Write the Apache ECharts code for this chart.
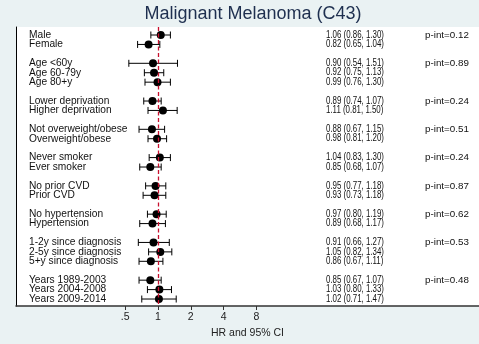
<!DOCTYPE html>
<html>
<head>
<meta charset="utf-8">
<script src="https://cdn.jsdelivr.net/npm/echarts@6/dist/echarts.min.js"></script>
<style>
  html, body { margin: 0; padding: 0; background: #eaf2f3; }
  #chart { width: 479px; height: 344px; }
</style>
</head>
<body>
<div id="chart"></div>
<script>
// Subgroup hazard ratios with 95% confidence intervals
const labels = [
  'Male', 'Female',
  'Age <60y', 'Age 60-79y', 'Age 80+y',
  'Lower deprivation', 'Higher deprivation',
  'Not overweight/obese', 'Overweight/obese',
  'Never smoker', 'Ever smoker',
  'No prior CVD', 'Prior CVD',
  'No hypertension', 'Hypertension',
  '1-2y since diagnosis', '2-5y since diagnosis', '5+y since diagnosis',
  'Years 1989-2003', 'Years 2004-2008', 'Years 2009-2014'
];
const hr = [1.06, 0.82, 0.90, 0.92, 0.99, 0.89, 1.11, 0.88, 0.98, 1.04, 0.85,
            0.95, 0.93, 0.97, 0.89, 0.91, 1.05, 0.86, 0.85, 1.03, 1.02];
const lo = [0.86, 0.65, 0.54, 0.75, 0.76, 0.74, 0.81, 0.67, 0.81, 0.83, 0.68,
            0.77, 0.73, 0.80, 0.68, 0.66, 0.82, 0.67, 0.67, 0.80, 0.71];
const hi = [1.30, 1.04, 1.51, 1.13, 1.30, 1.07, 1.50, 1.15, 1.20, 1.30, 1.07,
            1.18, 1.18, 1.19, 1.17, 1.27, 1.34, 1.11, 1.07, 1.33, 1.47];
// number of rows in each subgroup block and its interaction p-value
const groupSizes = [2, 3, 2, 2, 2, 2, 2, 3, 3];
const pInt = ['0.12', '0.89', '0.24', '0.51', '0.24', '0.87', '0.62', '0.53', '0.48'];
// x-axis ticks (HR scale)
const tickValues = [0.5, 1, 2, 4, 8];
const tickLabels = ['.5', '1', '2', '4', '8'];

const lg = Math.log2;

// vertical slot of every row: one empty slot between blocks
const rowPos = [];
const rowP = [];
let slot = 0;
groupSizes.forEach((n, g) => {
  for (let k = 0; k < n; k++) {
    rowPos.push(slot);
    rowP.push(k === 0 ? pInt[g] : '');
    slot++;
  }
  slot++;
});

const estText = hr.map((v, i) =>
  v.toFixed(2) + ' (' + lo[i].toFixed(2) + ', ' + hi[i].toFixed(2) + ')');

const FONT = 'Liberation Sans, Arial, sans-serif';
const chart = echarts.init(document.getElementById('chart'), null, { renderer: 'canvas' });

const option = {
  backgroundColor: '#eaf2f3',
  animation: false,
  graphic: [{
    type: 'text', x: 253, y: 14,
    style: {
      text: 'Malignant Melanoma (C43)', fontSize: 18, fontFamily: FONT,
      fill: '#1e2f4f', textAlign: 'center', textVerticalAlign: 'middle'
    }
  }],
  grid: {
    left: 16, right: 0, top: 27, bottom: 38,
    show: true, backgroundColor: '#ffffff', borderWidth: 0
  },
  xAxis: {
    type: 'value',
    min: -4.33, max: 9.79,
    name: 'HR and 95% CI', nameLocation: 'middle', nameGap: 21,
    nameTextStyle: { fontSize: 10.5, fontFamily: FONT, color: '#222' },
    axisLine: { show: true, onZero: false, lineStyle: { color: '#333', width: 1.5 } },
    axisTick: { show: true, length: 4, customValues: tickValues.map(lg),
                lineStyle: { color: '#333' } },
    axisLabel: {
      customValues: tickValues.map(lg), margin: 6,
      fontSize: 10.5, fontFamily: FONT, color: '#222',
      formatter: v => tickLabels[tickValues.findIndex(t => Math.abs(lg(t) - v) < 1e-6)]
    },
    splitLine: { show: false }
  },
  yAxis: {
    type: 'value', inverse: true,
    min: -0.85, max: 28.74,
    axisLine: { show: true, onZero: false, lineStyle: { color: '#000', width: 1 } },
    axisTick: { show: false }, axisLabel: { show: false }, splitLine: { show: false }
  },
  series: [
    {
      // null reference at HR = 1
      type: 'line', data: [], z: 1,
      markLine: {
        silent: true, symbol: 'none', label: { show: false },
        lineStyle: { color: '#c8102e', width: 1.3, type: [4, 2.5] },
        data: [{ xAxis: lg(1) }]
      }
    },
    {
      // confidence intervals with end caps
      type: 'custom', z: 2, clip: false,
      data: lo.map((v, i) => [lg(v), lg(hi[i]), rowPos[i]]),
      encode: { x: [0, 1], y: 2 },
      renderItem: (params, api) => {
        const a = api.coord([api.value(0), api.value(2)]);
        const b = api.coord([api.value(1), api.value(2)]);
        const h = 3.5;
        const st = { stroke: '#000', lineWidth: 1 };
        return {
          type: 'group',
          children: [
            { type: 'line', shape: { x1: a[0], y1: a[1], x2: b[0], y2: b[1] }, style: st },
            { type: 'line', shape: { x1: a[0], y1: a[1] - h, x2: a[0], y2: a[1] + h }, style: st },
            { type: 'line', shape: { x1: b[0], y1: b[1] - h, x2: b[0], y2: b[1] + h }, style: st }
          ]
        };
      }
    },
    {
      // point estimates
      type: 'scatter', z: 3,
      symbol: 'circle', symbolSize: 8,
      itemStyle: { color: '#000', opacity: 1 },
      data: hr.map((v, i) => [lg(v), rowPos[i]])
    },
    {
      // row labels, estimate text and interaction p-values
      type: 'custom', z: 4, clip: false,
      data: rowPos.map((p, i) => [0, p, i]),
      encode: { x: 0, y: 1 },
      renderItem: (params, api) => {
        const i = api.value(2);
        const y = api.coord([0, api.value(1)])[1];
        const base = { fontFamily: FONT, fill: '#111', textVerticalAlign: 'middle' };
        const kids = [
          { type: 'text', x: 29, y: y, style: Object.assign({ text: labels[i], fontSize: 10.2 }, base) },
          { type: 'text', x: 326, y: y, scaleX: 0.79,
            style: Object.assign({ text: estText[i], fontSize: 10 }, base) }
        ];
        if (rowP[i]) {
          kids.push({ type: 'text', x: 425, y: y,
            style: Object.assign({ text: 'p-int=' + rowP[i], fontSize: 9.8 }, base) });
        }
        return { type: 'group', children: kids };
      }
    }
  ]
};

chart.setOption(option);
</script>
</body>
</html>
